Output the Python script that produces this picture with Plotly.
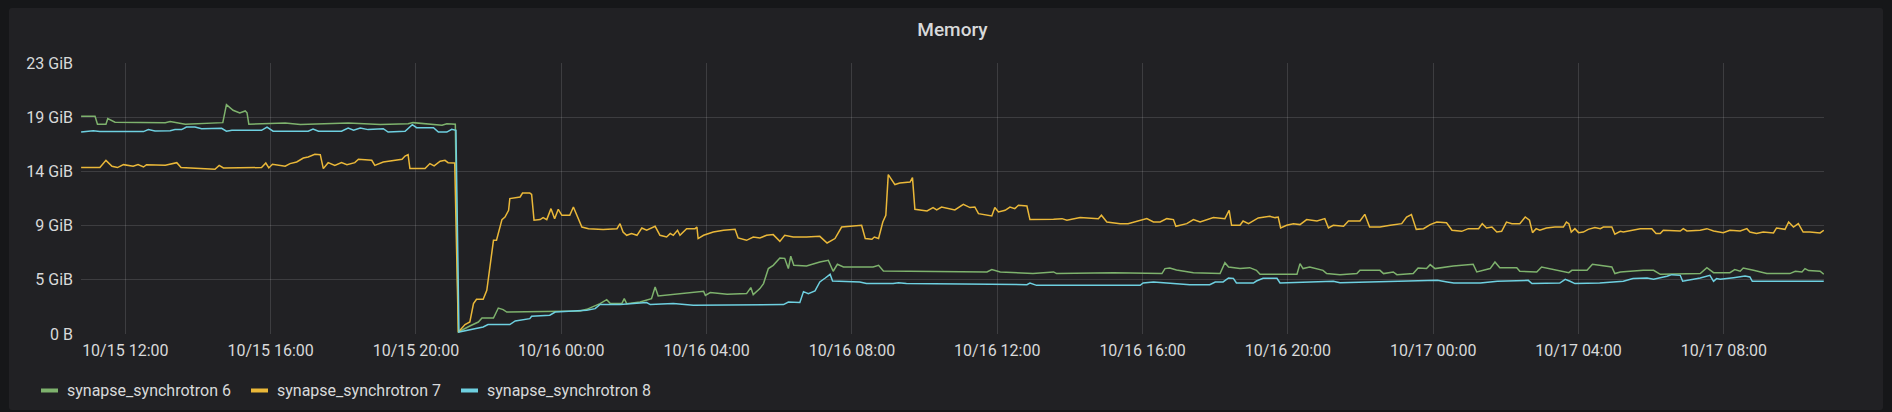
# Grafana-style "Memory" panel, three synchrotron workers
import plotly.graph_objects as go

GIB = 2 ** 30

# synapse_synchrotron 6 (green)
t6 = [
    "2019-10-15 10:47", "2019-10-15 11:10", "2019-10-15 11:14", "2019-10-15 11:28", "2019-10-15 11:31",
    "2019-10-15 11:43", "2019-10-15 13:06", "2019-10-15 13:14", "2019-10-15 13:39", "2019-10-15 14:41",
    "2019-10-15 14:47", "2019-10-15 14:58", "2019-10-15 15:09", "2019-10-15 15:18", "2019-10-15 15:21",
    "2019-10-15 15:24", "2019-10-15 16:24", "2019-10-15 16:49", "2019-10-15 18:08", "2019-10-15 19:01",
    "2019-10-15 19:47", "2019-10-15 19:55", "2019-10-15 20:43", "2019-10-15 20:51", "2019-10-15 21:05",
    "2019-10-15 21:10", "2019-10-15 21:29", "2019-10-15 21:43", "2019-10-15 21:49", "2019-10-15 22:08",
    "2019-10-15 22:16", "2019-10-15 22:24", "2019-10-15 22:30", "2019-10-16 00:31", "2019-10-16 00:42",
    "2019-10-16 01:04", "2019-10-16 01:15", "2019-10-16 01:21", "2019-10-16 01:40", "2019-10-16 01:44",
    "2019-10-16 01:48", "2019-10-16 02:10", "2019-10-16 02:29", "2019-10-16 02:35", "2019-10-16 02:40",
    "2019-10-16 03:16", "2019-10-16 03:55", "2019-10-16 03:58", "2019-10-16 04:06", "2019-10-16 04:34",
    "2019-10-16 05:06", "2019-10-16 05:13", "2019-10-16 05:17", "2019-10-16 05:28", "2019-10-16 05:34",
    "2019-10-16 05:42", "2019-10-16 05:50", "2019-10-16 06:01", "2019-10-16 06:09", "2019-10-16 06:15",
    "2019-10-16 06:19", "2019-10-16 06:24", "2019-10-16 06:45", "2019-10-16 07:07", "2019-10-16 07:21",
    "2019-10-16 07:29", "2019-10-16 07:36", "2019-10-16 07:46", "2019-10-16 08:35", "2019-10-16 08:44",
    "2019-10-16 08:52", "2019-10-16 11:43", "2019-10-16 11:51", "2019-10-16 12:05", "2019-10-16 12:59",
    "2019-10-16 13:33", "2019-10-16 13:38", "2019-10-16 15:12", "2019-10-16 16:32", "2019-10-16 16:37",
    "2019-10-16 16:45", "2019-10-16 16:56", "2019-10-16 17:24", "2019-10-16 18:08", "2019-10-16 18:16",
    "2019-10-16 18:22", "2019-10-16 18:41", "2019-10-16 18:57", "2019-10-16 19:08", "2019-10-16 19:14",
    "2019-10-16 20:15", "2019-10-16 20:20", "2019-10-16 20:25", "2019-10-16 20:36", "2019-10-16 20:58",
    "2019-10-16 21:04", "2019-10-16 21:26", "2019-10-16 21:54", "2019-10-16 21:59", "2019-10-16 22:32",
    "2019-10-16 22:38", "2019-10-16 22:54", "2019-10-16 23:00", "2019-10-16 23:27", "2019-10-16 23:35",
    "2019-10-16 23:49", "2019-10-16 23:55", "2019-10-17 00:03", "2019-10-17 00:33", "2019-10-17 01:06",
    "2019-10-17 01:12", "2019-10-17 01:34", "2019-10-17 01:42", "2019-10-17 01:50", "2019-10-17 02:18",
    "2019-10-17 02:23", "2019-10-17 02:51", "2019-10-17 02:59", "2019-10-17 03:13", "2019-10-17 03:44",
    "2019-10-17 03:49", "2019-10-17 04:14", "2019-10-17 04:23", "2019-10-17 04:55", "2019-10-17 05:00",
    "2019-10-17 05:09", "2019-10-17 05:47", "2019-10-17 06:04", "2019-10-17 06:15", "2019-10-17 07:21",
    "2019-10-17 07:32", "2019-10-17 07:43", "2019-10-17 08:10", "2019-10-17 08:18", "2019-10-17 08:27",
    "2019-10-17 08:32", "2019-10-17 08:49", "2019-10-17 09:11", "2019-10-17 09:49", "2019-10-17 09:58",
    "2019-10-17 10:09", "2019-10-17 10:14", "2019-10-17 10:20", "2019-10-17 10:39", "2019-10-17 10:45",
]
v6 = [
    18.70, 18.70, 18.02, 18.02, 18.50, 18.20, 18.16, 18.26, 18.02, 18.16,
    19.71, 19.22, 18.99, 19.16, 19.00, 18.02, 18.13, 17.99, 18.13, 18.00,
    18.07, 18.16, 17.93, 18.07, 18.02, 0.17, 0.69, 1.03, 1.37, 1.37,
    2.23, 2.10, 1.89, 1.98, 2.12, 2.61, 2.95, 2.61, 2.61, 3.04,
    2.61, 2.75, 3.04, 4.04, 3.26, 3.47, 3.67, 3.32, 3.56, 3.41,
    3.47, 3.99, 3.38, 3.90, 4.33, 5.62, 5.90, 6.53, 6.50, 5.62,
    6.68, 5.90, 5.84, 6.19, 6.33, 5.39, 5.99, 5.76, 5.76, 5.90,
    5.41, 5.33, 5.53, 5.33, 5.19, 5.33, 5.19, 5.27, 5.19, 5.62,
    5.67, 5.50, 5.27, 5.19, 6.13, 5.76, 5.62, 5.70, 5.47, 5.13,
    5.13, 6.05, 5.62, 5.76, 5.47, 5.19, 5.10, 5.19, 5.47, 5.47,
    5.19, 5.33, 5.10, 5.19, 5.67, 5.62, 5.96, 5.62, 5.84, 5.99,
    5.33, 5.62, 6.19, 5.70, 5.70, 5.39, 5.33, 5.76, 5.62, 5.27,
    5.47, 5.47, 5.99, 5.76, 5.19, 5.33, 5.47, 5.47, 5.13, 5.19,
    5.70, 5.27, 5.27, 5.53, 5.39, 5.67, 5.47, 5.19, 5.19, 5.39,
    5.33, 5.62, 5.45, 5.39, 5.13,
]

# synapse_synchrotron 7 (yellow)
t7 = [
    "2019-10-15 10:47", "2019-10-15 11:18", "2019-10-15 11:28", "2019-10-15 11:38", "2019-10-15 11:47",
    "2019-10-15 11:57", "2019-10-15 12:13", "2019-10-15 12:21", "2019-10-15 12:30", "2019-10-15 12:35",
    "2019-10-15 13:06", "2019-10-15 13:25", "2019-10-15 13:32", "2019-10-15 14:28", "2019-10-15 14:35",
    "2019-10-15 14:42", "2019-10-15 15:45", "2019-10-15 15:52", "2019-10-15 15:57", "2019-10-15 16:03",
    "2019-10-15 16:24", "2019-10-15 16:32", "2019-10-15 16:43", "2019-10-15 16:54", "2019-10-15 17:02",
    "2019-10-15 17:13", "2019-10-15 17:22", "2019-10-15 17:27", "2019-10-15 17:35", "2019-10-15 17:46",
    "2019-10-15 17:57", "2019-10-15 18:06", "2019-10-15 18:19", "2019-10-15 18:25", "2019-10-15 18:47",
    "2019-10-15 18:52", "2019-10-15 19:06", "2019-10-15 19:23", "2019-10-15 19:37", "2019-10-15 19:42",
    "2019-10-15 19:47", "2019-10-15 19:50", "2019-10-15 20:15", "2019-10-15 20:23", "2019-10-15 20:30",
    "2019-10-15 20:40", "2019-10-15 20:48", "2019-10-15 20:53", "2019-10-15 21:04", "2019-10-15 21:10",
    "2019-10-15 21:21", "2019-10-15 21:29", "2019-10-15 21:35", "2019-10-15 21:40", "2019-10-15 21:51",
    "2019-10-15 21:57", "2019-10-15 22:08", "2019-10-15 22:13", "2019-10-15 22:22", "2019-10-15 22:27",
    "2019-10-15 22:33", "2019-10-15 22:35", "2019-10-15 22:52", "2019-10-15 22:56", "2019-10-15 23:08",
    "2019-10-15 23:11", "2019-10-15 23:15", "2019-10-15 23:25", "2019-10-15 23:30", "2019-10-15 23:36",
    "2019-10-15 23:43", "2019-10-15 23:49", "2019-10-15 23:55", "2019-10-16 00:01", "2019-10-16 00:14",
    "2019-10-16 00:20", "2019-10-16 00:25", "2019-10-16 00:34", "2019-10-16 00:45", "2019-10-16 01:09",
    "2019-10-16 01:32", "2019-10-16 01:37", "2019-10-16 01:42", "2019-10-16 01:48", "2019-10-16 01:56",
    "2019-10-16 02:05", "2019-10-16 02:13", "2019-10-16 02:21", "2019-10-16 02:35", "2019-10-16 02:43",
    "2019-10-16 02:54", "2019-10-16 03:00", "2019-10-16 03:05", "2019-10-16 03:12", "2019-10-16 03:16",
    "2019-10-16 03:27", "2019-10-16 03:41", "2019-10-16 03:44", "2019-10-16 03:46", "2019-10-16 03:55",
    "2019-10-16 04:11", "2019-10-16 04:28", "2019-10-16 04:47", "2019-10-16 04:52", "2019-10-16 05:06",
    "2019-10-16 05:17", "2019-10-16 05:28", "2019-10-16 05:39", "2019-10-16 05:50", "2019-10-16 06:01",
    "2019-10-16 06:09", "2019-10-16 06:23", "2019-10-16 06:45", "2019-10-16 07:07", "2019-10-16 07:19",
    "2019-10-16 07:32", "2019-10-16 07:43", "2019-10-16 07:57", "2019-10-16 08:16", "2019-10-16 08:22",
    "2019-10-16 08:33", "2019-10-16 08:37", "2019-10-16 08:44", "2019-10-16 08:51", "2019-10-16 08:56",
    "2019-10-16 09:00", "2019-10-16 09:11", "2019-10-16 09:19", "2019-10-16 09:36", "2019-10-16 09:40",
    "2019-10-16 09:44", "2019-10-16 10:04", "2019-10-16 10:14", "2019-10-16 10:20", "2019-10-16 10:28",
    "2019-10-16 10:50", "2019-10-16 11:04", "2019-10-16 11:15", "2019-10-16 11:23", "2019-10-16 11:29",
    "2019-10-16 11:51", "2019-10-16 11:56", "2019-10-16 12:02", "2019-10-16 12:13", "2019-10-16 12:21",
    "2019-10-16 12:29", "2019-10-16 12:35", "2019-10-16 12:49", "2019-10-16 12:54", "2019-10-16 13:33",
    "2019-10-16 13:47", "2019-10-16 13:55", "2019-10-16 14:06", "2019-10-16 14:17", "2019-10-16 14:47",
    "2019-10-16 14:52", "2019-10-16 15:01", "2019-10-16 15:23", "2019-10-16 15:36", "2019-10-16 15:45",
    "2019-10-16 16:07", "2019-10-16 16:18", "2019-10-16 16:29", "2019-10-16 16:40", "2019-10-16 16:51",
    "2019-10-16 16:55", "2019-10-16 17:13", "2019-10-16 17:24", "2019-10-16 17:35", "2019-10-16 17:57",
    "2019-10-16 18:16", "2019-10-16 18:23", "2019-10-16 18:27", "2019-10-16 18:41", "2019-10-16 18:46",
    "2019-10-16 18:55", "2019-10-16 19:11", "2019-10-16 19:30", "2019-10-16 19:39", "2019-10-16 19:44",
    "2019-10-16 19:48", "2019-10-16 19:58", "2019-10-16 20:09", "2019-10-16 20:20", "2019-10-16 20:31",
    "2019-10-16 20:48", "2019-10-16 21:01", "2019-10-16 21:07", "2019-10-16 21:15", "2019-10-16 21:32",
    "2019-10-16 21:40", "2019-10-16 21:59", "2019-10-16 22:07", "2019-10-16 22:15", "2019-10-16 22:32",
    "2019-10-16 22:49", "2019-10-16 23:08", "2019-10-16 23:16", "2019-10-16 23:24", "2019-10-16 23:32",
    "2019-10-16 23:44", "2019-10-16 23:55", "2019-10-17 00:06", "2019-10-17 00:22", "2019-10-17 00:31",
    "2019-10-17 00:47", "2019-10-17 00:58", "2019-10-17 01:15", "2019-10-17 01:21", "2019-10-17 01:28",
    "2019-10-17 01:37", "2019-10-17 01:45", "2019-10-17 01:53", "2019-10-17 02:01", "2019-10-17 02:10",
    "2019-10-17 02:23", "2019-10-17 02:32", "2019-10-17 02:39", "2019-10-17 02:44", "2019-10-17 02:50",
    "2019-10-17 02:56", "2019-10-17 03:07", "2019-10-17 03:21", "2019-10-17 03:35", "2019-10-17 03:40",
    "2019-10-17 03:44", "2019-10-17 03:48", "2019-10-17 03:54", "2019-10-17 04:00", "2019-10-17 04:08",
    "2019-10-17 04:16", "2019-10-17 04:27", "2019-10-17 04:36", "2019-10-17 04:41", "2019-10-17 04:55",
    "2019-10-17 05:00", "2019-10-17 05:09", "2019-10-17 05:14", "2019-10-17 05:30", "2019-10-17 05:42",
    "2019-10-17 06:01", "2019-10-17 06:08", "2019-10-17 06:15", "2019-10-17 06:20", "2019-10-17 06:48",
    "2019-10-17 06:53", "2019-10-17 06:59", "2019-10-17 07:21", "2019-10-17 07:32", "2019-10-17 07:43",
    "2019-10-17 07:59", "2019-10-17 08:10", "2019-10-17 08:27", "2019-10-17 08:38", "2019-10-17 08:43",
    "2019-10-17 08:54", "2019-10-17 09:05", "2019-10-17 09:22", "2019-10-17 09:27", "2019-10-17 09:41",
    "2019-10-17 09:47", "2019-10-17 09:55", "2019-10-17 10:03", "2019-10-17 10:11", "2019-10-17 10:22",
    "2019-10-17 10:39", "2019-10-17 10:45",
]
v7 = [
    14.30, 14.30, 14.92, 14.41, 14.30, 14.55, 14.41, 14.55, 14.35, 14.55,
    14.49, 14.72, 14.30, 14.15, 14.49, 14.27, 14.30, 14.69, 14.27, 14.58,
    14.41, 14.64, 14.78, 15.12, 15.21, 15.44, 15.41, 14.21, 14.72, 14.49,
    14.72, 14.55, 14.72, 15.01, 14.92, 14.49, 14.78, 14.92, 15.01, 15.29,
    15.41, 14.21, 14.21, 14.64, 14.44, 14.84, 14.92, 14.72, 14.69, 0.17,
    0.81, 1.03, 2.61, 2.98, 2.98, 3.75, 8.05, 8.05, 9.83, 10.05,
    10.63, 11.63, 11.77, 12.11, 12.11, 12.00, 9.77, 9.83, 10.00, 9.83,
    10.77, 9.91, 10.71, 10.20, 10.20, 10.91, 10.26, 9.19, 9.05, 8.97,
    9.05, 9.48, 8.76, 8.48, 8.63, 8.48, 9.11, 8.91, 9.25, 8.48,
    8.33, 8.63, 8.48, 8.91, 8.48, 9.05, 9.05, 9.19, 8.20, 8.48,
    8.76, 8.91, 8.99, 8.25, 8.05, 8.33, 8.25, 8.48, 8.54, 7.96,
    8.48, 8.33, 8.33, 8.39, 7.82, 8.20, 9.19, 9.25, 9.34, 8.20,
    8.14, 8.33, 8.20, 9.62, 10.20, 13.69, 12.84, 12.97, 13.06, 13.44,
    10.71, 10.57, 10.86, 10.66, 10.91, 10.66, 11.14, 10.86, 10.91, 10.34,
    10.14, 10.86, 10.48, 10.63, 10.91, 10.77, 11.06, 11.00, 9.83, 9.86,
    9.91, 9.77, 9.91, 10.00, 9.91, 10.20, 9.62, 9.48, 9.48, 9.62,
    9.91, 9.62, 9.62, 9.91, 9.83, 9.25, 9.48, 9.83, 9.62, 10.00,
    9.91, 10.63, 9.34, 9.34, 9.71, 9.48, 9.97, 10.11, 10.00, 10.05,
    9.11, 9.34, 9.48, 9.40, 9.83, 9.71, 9.91, 9.11, 9.34, 9.25,
    9.71, 9.71, 10.28, 9.19, 9.19, 9.34, 9.48, 10.05, 10.26, 8.99,
    9.05, 9.40, 9.62, 9.56, 8.91, 8.82, 9.05, 9.05, 9.48, 9.11,
    9.19, 8.76, 8.82, 9.62, 9.48, 9.48, 10.05, 9.77, 8.71, 9.05,
    8.91, 9.11, 9.19, 9.19, 9.62, 9.48, 8.76, 9.05, 8.71, 8.76,
    8.99, 9.14, 9.05, 9.19, 9.19, 8.57, 8.82, 8.76, 8.91, 9.05,
    9.05, 8.63, 8.63, 8.91, 8.85, 9.05, 8.85, 8.91, 9.05, 8.85,
    8.71, 8.91, 8.85, 9.05, 8.76, 8.63, 8.76, 8.68, 9.11, 8.99,
    9.62, 9.19, 9.48, 8.76, 8.76, 8.68, 8.91,
]

# synapse_synchrotron 8 (cyan)
t8 = [
    "2019-10-15 10:47", "2019-10-15 11:07", "2019-10-15 11:18", "2019-10-15 12:30", "2019-10-15 12:38",
    "2019-10-15 12:49", "2019-10-15 13:14", "2019-10-15 13:22", "2019-10-15 13:33", "2019-10-15 13:41",
    "2019-10-15 13:55", "2019-10-15 14:06", "2019-10-15 14:39", "2019-10-15 14:47", "2019-10-15 14:56",
    "2019-10-15 15:45", "2019-10-15 15:54", "2019-10-15 16:04", "2019-10-15 17:02", "2019-10-15 17:10",
    "2019-10-15 17:19", "2019-10-15 17:57", "2019-10-15 18:08", "2019-10-15 18:17", "2019-10-15 18:28",
    "2019-10-15 18:41", "2019-10-15 19:06", "2019-10-15 19:14", "2019-10-15 19:42", "2019-10-15 19:54",
    "2019-10-15 20:01", "2019-10-15 20:29", "2019-10-15 20:37", "2019-10-15 20:51", "2019-10-15 20:59",
    "2019-10-15 21:06", "2019-10-15 21:11", "2019-10-15 21:35", "2019-10-15 21:51", "2019-10-15 21:59",
    "2019-10-15 22:35", "2019-10-15 22:44", "2019-10-15 23:08", "2019-10-15 23:11", "2019-10-15 23:41",
    "2019-10-15 23:50", "2019-10-16 00:20", "2019-10-16 00:42", "2019-10-16 00:56", "2019-10-16 01:04",
    "2019-10-16 01:37", "2019-10-16 02:10", "2019-10-16 02:21", "2019-10-16 02:27", "2019-10-16 03:05",
    "2019-10-16 03:38", "2019-10-16 04:55", "2019-10-16 05:06", "2019-10-16 06:07", "2019-10-16 06:15",
    "2019-10-16 06:34", "2019-10-16 06:40", "2019-10-16 06:48", "2019-10-16 06:59", "2019-10-16 07:07",
    "2019-10-16 07:16", "2019-10-16 07:24", "2019-10-16 07:28", "2019-10-16 08:13", "2019-10-16 08:24",
    "2019-10-16 09:08", "2019-10-16 09:17", "2019-10-16 09:30", "2019-10-16 12:49", "2019-10-16 12:54",
    "2019-10-16 13:05", "2019-10-16 15:56", "2019-10-16 16:01", "2019-10-16 16:18", "2019-10-16 16:40",
    "2019-10-16 17:18", "2019-10-16 17:51", "2019-10-16 18:00", "2019-10-16 18:13", "2019-10-16 18:22",
    "2019-10-16 18:30", "2019-10-16 18:35", "2019-10-16 19:03", "2019-10-16 19:08", "2019-10-16 19:19",
    "2019-10-16 19:42", "2019-10-16 19:47", "2019-10-16 20:25", "2019-10-16 21:15", "2019-10-16 21:26",
    "2019-10-16 22:43", "2019-10-17 00:07", "2019-10-17 00:23", "2019-10-17 00:34", "2019-10-17 01:18",
    "2019-10-17 01:46", "2019-10-17 02:37", "2019-10-17 02:43", "2019-10-17 03:29", "2019-10-17 03:38",
    "2019-10-17 03:46", "2019-10-17 03:54", "2019-10-17 04:35", "2019-10-17 05:14", "2019-10-17 05:30",
    "2019-10-17 05:53", "2019-10-17 06:04", "2019-10-17 06:15", "2019-10-17 06:26", "2019-10-17 06:34",
    "2019-10-17 06:48", "2019-10-17 06:52", "2019-10-17 07:07", "2019-10-17 07:21", "2019-10-17 07:37",
    "2019-10-17 07:43", "2019-10-17 07:48", "2019-10-17 07:54", "2019-10-17 08:16", "2019-10-17 08:35",
    "2019-10-17 08:43", "2019-10-17 08:47", "2019-10-17 10:45",
]
v8 = [
    17.35, 17.47, 17.40, 17.39, 17.56, 17.44, 17.47, 17.56, 17.56, 17.78,
    17.78, 17.64, 17.67, 17.42, 17.50, 17.50, 17.78, 17.42, 17.42, 17.61,
    17.42, 17.42, 17.70, 17.50, 17.70, 17.56, 17.64, 17.35, 17.42, 17.99,
    17.73, 17.73, 17.35, 17.35, 17.59, 17.50, 0.17, 0.40, 0.60, 0.81,
    0.81, 1.12, 1.32, 1.52, 1.61, 1.89, 1.95, 2.04, 2.18, 2.53,
    2.53, 2.70, 2.70, 2.53, 2.61, 2.47, 2.47, 2.53, 2.53, 2.75,
    2.70, 3.64, 3.47, 3.70, 4.47, 4.81, 5.13, 4.55, 4.47, 4.33,
    4.33, 4.41, 4.33, 4.24, 4.38, 4.18, 4.18, 4.38, 4.47, 4.38,
    4.24, 4.24, 4.47, 4.47, 4.81, 4.78, 4.38, 4.38, 4.55, 4.78,
    4.78, 4.38, 4.47, 4.53, 4.41, 4.53, 4.61, 4.47, 4.38, 4.38,
    4.53, 4.61, 4.33, 4.38, 4.70, 4.53, 4.33, 4.38, 4.53, 4.76,
    4.81, 4.70, 4.81, 4.96, 5.10, 5.04, 4.53, 4.67, 4.81, 5.04,
    4.53, 4.76, 4.70, 4.84, 4.98, 4.90, 4.53, 4.53,
]

names = ["synapse_synchrotron 6", "synapse_synchrotron 7", "synapse_synchrotron 8"]
colors = ["#7EB26D", "#EAB839", "#6ED0E0"]

y_ticks_bytes = [0, 5e9, 10e9, 15e9, 20e9, 25e9]
y_tick_text = ["0 B", "5 GiB", "9 GiB", "14 GiB", "19 GiB", "23 GiB"]

W, H = 1892, 412
L, R, T, B = 81, 68, 63, 78
PW, PH = W - L - R, H - T - B

def px(x):
    return (x - L) / PW

def py(y):
    return (H - B - y) / PH

TEXT = "#d8d9da"
FONT = "Roboto, Helvetica, Arial, sans-serif"

fig = go.Figure()
for t, v, name, c in zip([t6, t7, t8], [v6, v7, v8], names, colors):
    fig.add_trace(go.Scatter(x=t, y=v, name=name, mode="lines",
                             line=dict(color=c, width=1.5), hoverinfo="x+y+name"))

# panel background with slightly rounded corners
x0, x1, y0, y1 = px(9), px(1883), py(410), py(8)
rx, ry = 3 / PW, 3 / PH
panel = (f"M{x0 + rx},{y0} L{x1 - rx},{y0} Q{x1},{y0} {x1},{y0 + ry} "
         f"L{x1},{y1 - ry} Q{x1},{y1} {x1 - rx},{y1} L{x0 + rx},{y1} "
         f"Q{x0},{y1} {x0},{y1 - ry} L{x0},{y0 + ry} Q{x0},{y0} {x0 + rx},{y0} Z")
shapes = [dict(type="path", path=panel, xref="paper", yref="paper",
               fillcolor="#212124", line=dict(width=0), layer="below")]

# legend drawn like grafana's: short thick bar + label
annotations = []
for i, (name, c) in enumerate(zip(names, colors)):
    lx = 41 + i * 210
    shapes.append(dict(type="line", xref="paper", yref="paper",
                       x0=px(lx), x1=px(lx + 17), y0=py(390.5), y1=py(390.5),
                       line=dict(color=c, width=4)))
    annotations.append(dict(text=name, xref="paper", yref="paper", x=px(lx + 24), y=py(390.5),
                            xanchor="left", yanchor="middle", showarrow=False,
                            font=dict(family=FONT, size=16, color=TEXT)))

fig.update_layout(
    width=W, height=H,
    margin=dict(l=L, r=R, t=T, b=B),
    paper_bgcolor="#161719",
    plot_bgcolor="rgba(0,0,0,0)",
    showlegend=False,
    shapes=shapes,
    annotations=annotations,
    title=dict(text="Memory", x=0.5, xref="paper", xanchor="center",
               y=1 - 29 / H, yref="container", yanchor="middle",
               font=dict(family=FONT, size=19, color=TEXT, weight=500)),
    font=dict(family=FONT, size=16, color=TEXT),
    xaxis=dict(
        type="date",
        range=["2019-10-15 10:46:48", "2019-10-17 10:45:24"],
        tick0="2019-10-15 12:00", dtick=4 * 3600 * 1000,
        tickformat="%m/%d %H:%M",
        showgrid=True, gridcolor="rgba(255,255,255,0.13)", gridwidth=1,
        zeroline=False, showline=False, ticks="",
        ticklabelstandoff=5,
        tickfont=dict(family=FONT, size=16, color=TEXT),
    ),
    yaxis=dict(
        range=[0, 25e9 / GIB],
        tickvals=[b / GIB for b in y_ticks_bytes],
        ticktext=y_tick_text,
        showgrid=True, gridcolor="rgba(255,255,255,0.13)", gridwidth=1,
        zeroline=False, showline=False, ticks="",
        ticklabelstandoff=7,
        tickfont=dict(family=FONT, size=16, color=TEXT),
    ),
)

# the page body has a default 8px margin; drop it so the figure fills the window
fig.write_html("out.html", config={"displayModeBar": False},
               post_script="document.body.style.margin='0';document.body.style.background='#161719';")
